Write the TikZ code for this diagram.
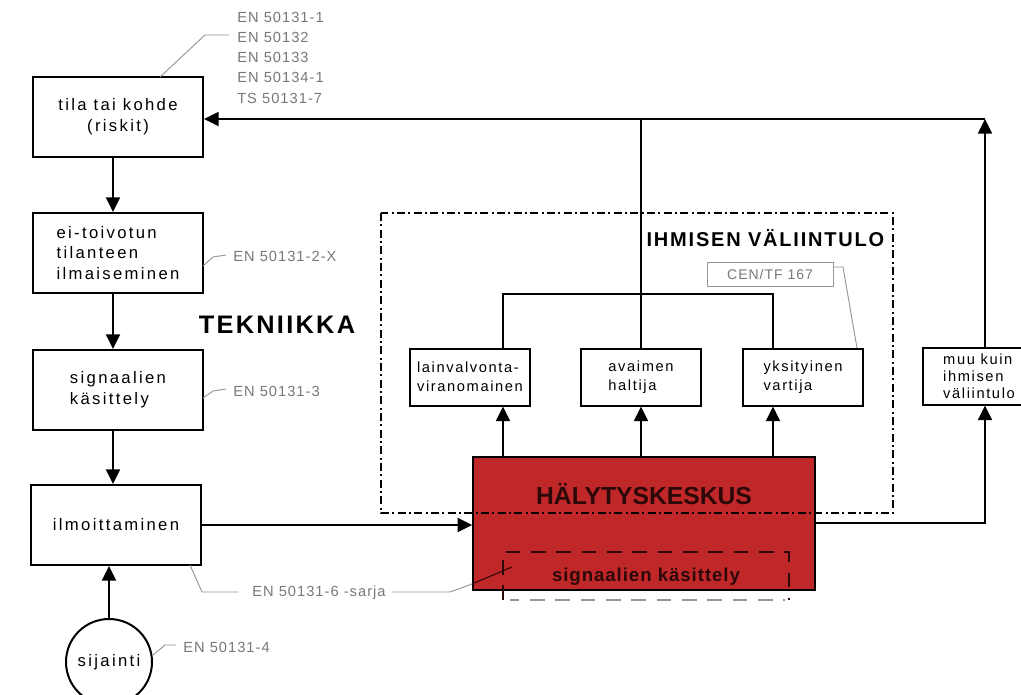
\documentclass[tikz,border=0pt]{standalone}
\usepackage{fontspec}
\setmainfont{Liberation Sans}
\newfontfamily\bxfont[LetterSpace=14]{Liberation Sans}
\newfontfamily\smfont[LetterSpace=11]{Liberation Sans}
\newfontfamily\anfont[LetterSpace=7]{Liberation Sans}
\newfontfamily\hdfont[LetterSpace=9]{Liberation Sans}
\newfontfamily\skfont[LetterSpace=5]{Liberation Sans}
\usetikzlibrary{arrows.meta}
\definecolor{alarmred}{RGB}{192,39,40}
\definecolor{annot}{RGB}{120,120,120}
\definecolor{annotline}{RGB}{150,150,150}
\definecolor{darkred}{RGB}{45,8,8}
\begin{document}
\begin{tikzpicture}[x=0.75pt,y=-0.75pt,
  bigbox/.style={draw, line width=1.5pt, minimum width=127.5pt, minimum height=60pt, inner sep=0pt, align=left,
    font=\bxfont\fontsize{12.5}{15.5}\selectfont},
  smbox/.style={draw, line width=1.5pt, minimum width=90pt, minimum height=42.75pt, inner sep=0pt, align=left,
    font=\smfont\fontsize{11}{14.5}\selectfont},
  circ/.style={draw, circle, line width=1.5pt, minimum size=64.5pt, inner sep=0pt,
    font=\bxfont\fontsize{12.5}{15}\selectfont},
  conn/.style={line width=1.5pt},
  arr/.style={line width=1.5pt, -{Triangle[length=11pt,width=10.5pt]}},
  ann/.style={draw=annotline, line width=0.7pt},
  antext/.style={text=annot, inner sep=0pt, align=left, font=\anfont\fontsize{11}{15.2}\selectfont},
  dotbox/.style={line width=1.6pt, dash pattern=on 6pt off 2.5pt on 1.5pt off 2.5pt},
  innerdash/.style={line width=2pt, dash pattern=on 11pt off 8pt}
]
\clip (0,0) rectangle (1021,695);
\fill[white] (0,0) rectangle (1021,695);

% left column
\node[bigbox, align=center] (tila) at (118,117) {tila tai kohde\\(riskit)};
\node[bigbox] (ei) at (118,253) {ei-toivotun\\tilanteen\\ilmaiseminen};
\node[bigbox] (sig) at (118,390) {signaalien\\käsittely};
\node[bigbox] (ilm) at (116,525) {ilmoittaminen};
\node[circ] (sij) at (109,662) {sijainti};

\coordinate (vx) at (113,0);
\draw[arr] (tila.south -| vx) -- (ei.north -| vx);
\draw[arr] (ei.south -| vx) -- (sig.north -| vx);
\draw[arr] (sig.south -| vx) -- (ilm.north -| vx);
\draw[arr] (sij.north) -- (ilm.south -| sij.north);

\node[font=\hdfont\bfseries\fontsize{19}{22}\selectfont] (tek) at (277,325) {TEKNIIKKA};

% alarm centre
\node[draw, line width=1.2pt, fill=alarmred, minimum width=256.5pt, minimum height=99.75pt, inner sep=0pt] (hal) at (644,523.5) {};
\node[text=darkred, font=\bfseries\fontsize{18.5}{20}\selectfont] (halt) at (644,494) {HÄLYTYSKESKUS};
\node[text=darkred, font=\skfont\bfseries\fontsize{14}{16}\selectfont] (sk) at (646,577) {signaalien käsittely};
\coordinate (dA) at (503,600);
\coordinate (dB) at (503,552);
\coordinate (dC) at (789,552);
\coordinate (dD) at (789,600);
\draw[innerdash, draw=darkred] (dA) -- (dB) -- (dC) -- (dD);
\draw[innerdash, draw=annotline, dash phase=4pt] (510,600) -- (785,600);

% human intervention area
\draw[dotbox] (381,213) rectangle (893,513);
\node[anchor=east, font=\hdfont\bfseries\fontsize{15}{18}\selectfont] (ihm) at (889,238) {IHMISEN VÄLIINTULO};

\node[smbox] (law) at (470,377) {lainvalvonta-\\viranomainen};
\node[smbox] (key) at (641,377) {avaimen\\haltija};
\node[smbox] (grd) at (803,377) {yksityinen\\vartija};
\node[smbox, minimum width=84pt, font=\smfont\fontsize{11}{12.75}\selectfont] (muu) at (979,376) {muu kuin\\ihmisen\\väliintulo};

\node[draw=annotline, line width=0.6pt, minimum width=94.5pt, minimum height=18pt, inner sep=0pt,
  text=annot, font=\anfont\fontsize{10.5}{12}\selectfont] (cen) at (770,274) {CEN/TF 167};

% connectors
\coordinate (top) at (985,119);
\coordinate (c1) at (503,294);
\coordinate (c3) at (773,294);
\coordinate (rt) at (985,523);
\draw[arr] (top |- muu.north) -- (top);
\draw[arr] (top) -- (tila.east |- top);
\draw[conn] (key.north) -- (key.north |- top);
\draw[conn] (law.north -| c1) -- (c1) -- (c3) -- (grd.north -| c3);
\draw[arr] (hal.north -| c1) -- (law.south -| c1);
\draw[arr] (hal.north -| key) -- (key.south);
\draw[arr] (hal.north -| c3) -- (grd.south -| c3);
\draw[arr] (ilm.east) -- (ilm.east -| hal.west);
\draw[arr] (hal.east |- rt) -- (rt) -- (muu.south -| rt);

% standard annotations
\node[antext, anchor=west] (s1) at (237,57.5) {EN 50131-1\\EN 50132\\EN 50133\\EN 50134-1\\TS 50131-7};
\draw[ann] (160,77) -- (205,35) -- (229,35);
\node[antext, anchor=west] (s2) at (233,256) {EN 50131-2-X};
\draw[ann] (203,266) -- (213,257) -- (226,255);
\node[antext, anchor=west] (s3) at (233,391) {EN 50131-3};
\draw[ann] (203,398) -- (213,391) -- (226,389);
\node[antext, anchor=west] (s6) at (252,593) {EN 50131-6 -sarja};
\draw[ann] (190,565) -- (202,592) -- (238,592);
\draw[ann] (s6.east) ++(6,-1) -- (450,592) -- (472,584);
\draw[line width=0.8pt, draw=darkred] (472,584) -- (512,567);
\node[antext, anchor=west] (s4) at (183,647) {EN 50131-4};
\draw[ann] (153,655) -- (165,645) -- (176,645);
\draw[ann] (cen.east |- 0,267) -- (843,267) -- (857,348);
\end{tikzpicture}
\end{document}
